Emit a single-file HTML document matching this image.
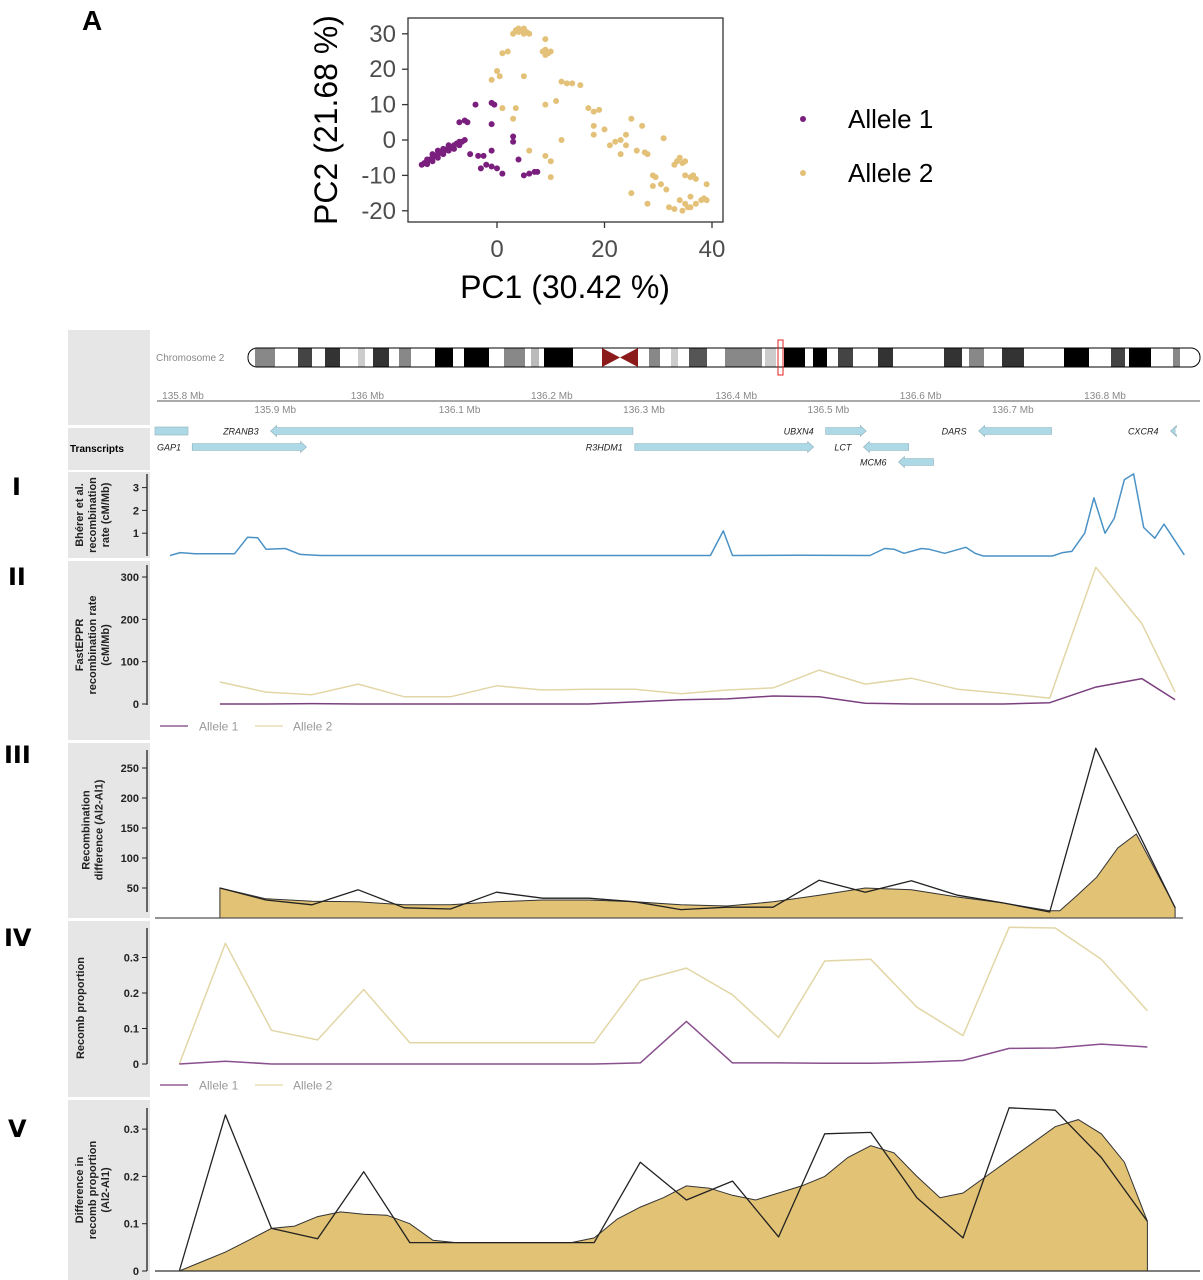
<!DOCTYPE html>
<html><head><meta charset="utf-8"><style>
html,body{margin:0;padding:0;background:#fff;}
svg{display:block;font-family:"Liberation Sans",sans-serif;}
</style></head><body>
<svg id="fig" width="1203" height="1280" viewBox="0 0 1203 1280" xmlns="http://www.w3.org/2000/svg">
<rect x="0" y="0" width="1203" height="1280" fill="#fff"/>
<text x="82" y="30" font-size="28" font-weight="bold">A</text>
<text x="78" y="364" font-size="28" font-weight="bold">B</text>
<g font-family="DejaVu Sans, sans-serif" font-size="24" font-weight="bold">
<text x="12" y="495">I</text>
<text x="8" y="585">II</text>
<text x="4" y="763">III</text>
<text x="4" y="946">IV</text>
<text x="8" y="1137">V</text>
</g>
<g fill="#e6e6e6">
<rect x="68" y="330" width="82" height="95"/>
<rect x="68" y="428" width="82" height="42"/>
<rect x="68" y="472" width="82" height="86"/>
<rect x="68" y="561" width="82" height="179"/>
<rect x="68" y="743" width="82" height="175"/>
<rect x="68" y="921" width="82" height="176"/>
<rect x="68" y="1100" width="82" height="180"/>
</g>
<text x="156" y="361" font-size="10" fill="#888">Chromosome 2</text>
<text x="70" y="452" font-size="10" font-weight="bold">Transcripts</text>
<g id="gA"></g><g id="gB"></g>
</svg>
<script>
// ---------- Panel A data ----------
const a1PC1 = [-14,-13.5,-13,-13,-12.5,-12,-12,-11.5,-11,-11,-10.5,-10,-10,-9.5,-9,-9,-8.5,-8,-8,-7.5,-7,-7,-6.5,-6,-12,-11,-10,-13,-9,-7,-6,-5.5,-4,-1,-0.5,-1,-5,-3.5,-2.5,-1,-3,-2,-1,0,1,3,3,4,5,6,7,7.5];
const a1PC2 = [-7,-6.5,-6.8,-6,-5.5,-6,-5,-4.5,-5,-4,-3.5,-4,-3,-2.8,-3,-2,-2,-2.5,-1.5,-1,-1.5,-0.5,-0.5,0,-4,-3,-2.5,-5.5,-1.5,5,5.5,5,10,10.5,10,4.5,-4,-4.5,-4.5,-3,-8,-7,-7.5,-8,-9.5,-0.5,1,-5.5,-10,-9.5,-9,-9];
const a2PC1 = [3,3.5,4,4.5,5,5.5,6,4,5,9,9,8.5,9.5,10,9,2,1,-1,0,0.5,5,1,3,3.5,6,9,10,10,9,11,12,13,14,15.5,12,17,18,19,18,18,20,21,22,23,23,24,24,25,26,27,27.5,28,25,28,29,29.5,29,30.5,31,31.5,32,33,33,33.5,34,34.5,35,35,36,36.5,37,34,35,35.5,34.5,36,37,38,38.5,39,39,36];
const a2PC2 = [30,31,31.5,31,31.5,30.5,30,30.5,30,28.5,25.5,25,24.5,25,24,25,24.5,17,19.5,18,18,9,6,9,-3,-4.5,-6,-10.5,10,11,16.5,16,16,15.5,0,9,8,8.5,4,1.5,3,-1.5,-0.5,0,-4,-1.5,1.5,6,-3,4,-3.5,-4,-15,-18,-10,-10.5,-13,-12.5,0.5,-14,-19,-19.5,-7,-6,-5,-6.5,-6,-10,-10.5,-10,-11,-17,-18,-19,-20,-19,-18,-17,-16.5,-17,-12.5,-16];
const aXTicks = [0,20,40];
const aYTicks = [-20,-10,0,10,20,30];

// ---------- Panel B data ----------
const mbTicksTop = [135.8,136.0,136.2,136.4,136.6,136.8];
const mbTicksBottom = [135.9,136.1,136.3,136.5,136.7];
const bhererPos = [135.786,135.797,135.813,135.835,135.856,135.870,135.881,135.890,135.911,135.927,135.949,136.100,136.241,136.372,136.386,136.396,136.469,136.545,136.561,136.571,136.582,136.601,136.609,136.626,136.649,136.659,136.668,136.743,136.754,136.764,136.778,136.788,136.800,136.810,136.821,136.831,136.842,136.854,136.864,136.886];
const bhererRate = [0.02,0.15,0.1,0.1,0.1,0.82,0.8,0.3,0.33,0.07,0.02,0.02,0.02,0.02,1.1,0.02,0.03,0.02,0.33,0.3,0.12,0.33,0.3,0.12,0.38,0.12,0.0,0.0,0.15,0.2,1.0,2.55,1.0,1.65,3.35,3.6,1.25,0.78,1.4,0.05];
const fastPos = [135.84,135.89,135.94,135.99,136.04,136.09,136.14,136.19,136.24,136.29,136.34,136.39,136.44,136.49,136.54,136.59,136.64,136.69,136.74,136.79,136.84,136.876];
const fastAllele1 = [0,0,1,0,0,0,0,0,0,5,10,12,19,17,2,0,0,0,3,40,60,10];
const fastAllele2 = [52,28,22,47,17,17,43,33,35,35,24,33,38,80,47,61,35,25,14,323,190,28];
const diffRaw = [50,30,22,47,17,15,43,33,33,27,14,18,18,63,43,62,38,25,10,283,130,17];
const diffSmoothPos = [135.84,135.89,135.94,135.99,136.04,136.09,136.14,136.19,136.24,136.29,136.34,136.39,136.44,136.49,136.54,136.59,136.64,136.69,136.74,136.751,136.770,136.791,136.814,136.834,136.876];
const diffSmooth = [50,32,28,27,22,22,27,30,30,27,22,20,27,38,50,47,35,25,12,12,38,68,117,140,18];
const propPos = [135.796,135.846,135.896,135.946,135.996,136.046,136.096,136.146,136.196,136.246,136.296,136.346,136.396,136.446,136.496,136.546,136.596,136.646,136.696,136.746,136.796,136.846];
const propAllele1 = [0,0.008,0,0,0,0,0,0,0,0,0.003,0.12,0.003,0.003,0.002,0.002,0.005,0.01,0.044,0.045,0.056,0.048];
const propAllele2 = [0,0.34,0.095,0.068,0.21,0.06,0.06,0.06,0.06,0.06,0.235,0.27,0.195,0.075,0.29,0.295,0.16,0.08,0.385,0.383,0.295,0.15];
const propDiff = [0,0.33,0.09,0.068,0.21,0.06,0.06,0.06,0.06,0.06,0.23,0.15,0.19,0.072,0.29,0.293,0.155,0.07,0.345,0.34,0.24,0.105];
const propSmoothPos = [135.796,135.821,135.846,135.871,135.896,135.921,135.946,135.971,135.996,136.021,136.046,136.071,136.096,136.121,136.146,136.171,136.196,136.221,136.246,136.271,136.296,136.321,136.346,136.371,136.396,136.421,136.446,136.471,136.496,136.521,136.546,136.571,136.596,136.621,136.646,136.671,136.696,136.721,136.746,136.771,136.796,136.821,136.846];
const propSmooth = [0,0.02,0.04,0.065,0.09,0.095,0.115,0.125,0.12,0.118,0.1,0.065,0.06,0.06,0.06,0.06,0.06,0.06,0.07,0.11,0.135,0.155,0.18,0.175,0.16,0.15,0.165,0.18,0.2,0.24,0.265,0.25,0.2,0.155,0.165,0.2,0.235,0.27,0.305,0.32,0.29,0.23,0.105];
const bhererTicks = [1,2,3];
const fastTicks = [0,100,200,300];
const diffTicks = [50,100,150,200,250];
const propTicks = [0,0.1,0.2,0.3];
const propDiffTicks = [0,0.1,0.2,0.3];
const geneNames = ["GAP1","ZRANB3","R3HDM1","UBXN4","LCT","MCM6","DARS","CXCR4"];
const geneStart = [135.810,135.895,136.290,136.497,136.538,136.576,136.663,136.871];
const geneEnd = [135.934,136.288,136.484,136.541,136.587,136.614,136.742,136.876];
const geneStrand = [1,-1,1,1,-1,-1,-1,-1];
const geneRow = [1,0,1,0,1,2,0,0];

const NS = "http://www.w3.org/2000/svg";
function mk(parent, tag, attrs, text){
  const e = document.createElementNS(NS, tag);
  for (const k in attrs) e.setAttribute(k, attrs[k]);
  if (text !== undefined) e.textContent = text;
  parent.appendChild(e);
  return e;
}
// ---- Panel A ----
const gA = document.getElementById('gA');
const ax = v => 497 + v*5.375;
const ay = v => 140 - v*3.54;
let e;
e = mk(gA,'rect',{x:408,y:18,width:315,height:204,fill:'none',stroke:'#333','stroke-width':1.3});


aXTicks.forEach(t=>{
  e = mk(gA,'line',{x1:ax(t),x2:ax(t),y1:222,y2:228,stroke:'#333','stroke-width':1.3});
  
  
  e = mk(gA,'text',{x:ax(t),y:257,'text-anchor':'middle','font-size':24,fill:'#4d4d4d'},String(t));
  
  
});
aYTicks.forEach(t=>{
  e = mk(gA,'line',{x1:402,x2:408,y1:ay(t),y2:ay(t),stroke:'#333','stroke-width':1.3});
  
  
  e = mk(gA,'text',{x:396,y:ay(t)+8,'text-anchor':'end','font-size':24,fill:'#4d4d4d'},String(t));
  
  
});
e = mk(gA,'text',{x:565,y:298,'text-anchor':'middle','font-size':32},'PC1 (30.42 %)');


e = mk(gA,'text',{transform:'translate(337,120) rotate(-90)','text-anchor':'middle','font-size':32},'PC2 (21.68 %)');


a2PC1.forEach((v,i)=>{
  e = mk(gA,'circle',{cx:ax(v),cy:ay(a2PC2[i]),r:3,fill:'#e4c179'});
  
  
});
a1PC1.forEach((v,i)=>{
  e = mk(gA,'circle',{cx:ax(v),cy:ay(a1PC2[i]),r:3,fill:'#7a1f7d'});
  
  
});
e = mk(gA,'circle',{cx:803,cy:119,r:3,fill:'#7a1f7d'});


e = mk(gA,'text',{x:848,y:128,'font-size':26},'Allele 1');


e = mk(gA,'circle',{cx:803,cy:173,r:3,fill:'#e4c179'});


e = mk(gA,'text',{x:848,y:182,'font-size':26},'Allele 2');



// ---- Panel B ----
const gB = document.getElementById('gB');
const gx = m => 183 + (m-135.8)*922;
const bandStart = [255,298,325,358,373,399,435,464,504,531,544,649,671,689,725,765,784,813,838,878,944,969,1002,1064,1111,1129,1173];
const bandEnd =   [275,312,340,365,389,411,453,489,525,539,573,660,678,707,762,776,805,827,853,893,962,984,1024,1089,1125,1151,1180];
const bandShade = ['#888','#444','#333','#ccc','#333','#888','#000','#000','#888','#bbb','#000','#888','#ccc','#555','#888','#ccc','#000','#000','#444','#333','#333','#888','#333','#000','#444','#000','#888'];
const chrom = mk(gB,'g',{});


e = mk(chrom,'rect',{x:248,y:348,width:952,height:19,rx:9,fill:'#fff',stroke:'#000','stroke-width':1});


bandStart.forEach((s,i)=>{
  e = mk(chrom,'rect',{x:s,y:348.5,width:bandEnd[i]-s,height:18,fill:bandShade[i]});
  
  
});
e = mk(chrom,'polygon',{points:'602,348 620,357.5 602,367',fill:'#8b1a1a'});


e = mk(chrom,'polygon',{points:'638,348 620,357.5 638,367',fill:'#8b1a1a'});


e = mk(chrom,'rect',{x:778,y:340,width:5,height:35,fill:'none',stroke:'#e02020','stroke-width':1});


e = mk(gB,'line',{x1:157,x2:1200,y1:401,y2:401,stroke:'#aaa','stroke-width':2});


mbTicksTop.forEach(t=>{
  e = mk(gB,'text',{x:gx(t),y:399,'text-anchor':'middle','font-size':10,fill:'#888'},(+t.toFixed(1))+' Mb');
  
  
});
mbTicksBottom.forEach(t=>{
  e = mk(gB,'text',{x:gx(t),y:413,'text-anchor':'middle','font-size':10,fill:'#888'},t.toFixed(1)+' Mb');
  
  
});
const rowY = [431,447,462];
e = mk(gB,'rect',{x:155,y:427,width:33,height:8,fill:'#add8e6',stroke:'#8fb0bb','stroke-width':0.6});


geneNames.forEach((g,i)=>{
  const x1 = gx(geneStart[i]), x2 = gx(geneEnd[i]), y = rowY[geneRow[i]];
  let pts;
  if (geneStrand[i] > 0) pts = `${x1},${y-3.5} ${x2-6},${y-3.5} ${x2-6},${y-5.5} ${x2},${y} ${x2-6},${y+5.5} ${x2-6},${y+3.5} ${x1},${y+3.5}`;
  else pts = `${x2},${y-3.5} ${x1+6},${y-3.5} ${x1+6},${y-5.5} ${x1},${y} ${x1+6},${y+5.5} ${x1+6},${y+3.5} ${x2},${y+3.5}`;
  e = mk(gB,'polygon',{points:pts,fill:'#add8e6',stroke:'#8fb0bb','stroke-width':0.6});
  
  
  const lx = (i===0) ? 157 : x1 - 12;
  e = mk(gB,'text',{x:lx,y:y+3.5,'text-anchor':(i===0?'start':'end'),'font-size':9,'font-style':'italic',fill:'#222'},g);
  
  
});

function yAxis(ticks, sy, top, bottom, fmt, name){
  e = mk(gB,'line',{x1:147,x2:147,y1:top,y2:bottom,stroke:'#222','stroke-width':1.3});
  
  
  ticks.forEach(t=>{
    e = mk(gB,'line',{x1:142,x2:147,y1:sy(t),y2:sy(t),stroke:'#222','stroke-width':1});
    
    
    e = mk(gB,'text',{x:139,y:sy(t)+4,'text-anchor':'end','font-size':11,'font-weight':'bold',fill:'#222'},fmt(t));
    
    
  });
}
function yTitle(lines, cx, cy, name){
  const t = mk(gB,'text',{transform:`translate(${cx},${cy}) rotate(-90)`,'text-anchor':'middle','font-size':11,'font-weight':'bold',fill:'#222'});
  
  
  const off = -(lines.length-1)*6.5;
  lines.forEach((l,i)=>{ mk(t,'tspan',{x:0,y:off+i*13+4},l); });
}
function linePath(xs, ys, sy){
  return xs.map((m,i)=>(i?'L':'M')+gx(m).toFixed(1)+','+sy(ys[i]).toFixed(1)).join(' ');
}
function drawLine(xs, ys, sy, color, w, name){
  e = mk(gB,'path',{d:linePath(xs,ys,sy),fill:'none',stroke:color,'stroke-width':w,'stroke-linejoin':'round'});
  
  
}
function drawArea(xs, ys, sy, base, color, name){
  const d = linePath(xs,ys,sy)+` L${gx(xs[xs.length-1]).toFixed(1)},${base} L${gx(xs[0]).toFixed(1)},${base} Z`;
  e = mk(gB,'path',{d:d,fill:color,stroke:'#333','stroke-width':1});
  
  
}
function legend(y, name){
  e = mk(gB,'line',{x1:160,x2:188,y1:y,y2:y,stroke:'#7b3f7f','stroke-width':1.3});
  
  
  e = mk(gB,'text',{x:199,y:y+4.5,'font-size':12,fill:'#999'},'Allele 1');
  
  
  e = mk(gB,'line',{x1:255,x2:283,y1:y,y2:y,stroke:'#e2d6a6','stroke-width':1.3});
  
  
  e = mk(gB,'text',{x:293,y:y+4.5,'font-size':12,fill:'#999'},'Allele 2');
  
  
}
const s1 = v => 556 - v*22.8;
yAxis(bhererTicks, s1, 474, 556, t=>String(t), 'bherer');
yTitle(['Bhérer et al.','recombination','rate (cM/Mb)'], 92, 515, 'bherer');
drawLine(bhererPos, bhererRate, s1, '#4a92c6', 1.5, 'bherer-rate-line');
const s2 = v => 704 - v*0.4233;
yAxis(fastTicks, s2, 565, 705, t=>String(t), 'fasteppr');
yTitle(['FastEPPR','recombination rate','(cM/Mb)'], 92, 645, 'fasteppr');
drawLine(fastPos, fastAllele2, s2, '#e2d6a6', 1.5, 'fasteppr-allele2-line');
drawLine(fastPos, fastAllele1, s2, '#7b3f7f', 1.5, 'fasteppr-allele1-line');
legend(726, 'fasteppr');
const s3 = v => 918 - v*0.6;
yAxis(diffTicks, s3, 750, 912, t=>String(t), 'recomb-diff');
yTitle(['Recombination','difference (Al2-Al1)'], 92, 830, 'recomb-diff');
drawArea(diffSmoothPos, diffSmooth, s3, 918, '#e2c275', 'recomb-diff-smoothed-area');
drawLine(fastPos, diffRaw, s3, '#222', 1.3, 'recomb-diff-line');
e = mk(gB,'line',{x1:155,x2:1183,y1:918,y2:918,stroke:'#555','stroke-width':1.3});


const s4 = v => 1064 - v*355;
yAxis(propTicks, s4, 928, 1064, t=>String(t), 'recomb-prop');
yTitle(['Recomb proportion'], 80, 1008, 'recomb-prop');
drawLine(propPos, propAllele2, s4, '#e2d6a6', 1.5, 'recomb-prop-allele2-line');
drawLine(propPos, propAllele1, s4, '#8a4f8e', 1.5, 'recomb-prop-allele1-line');
legend(1085, 'recomb-prop');
const s5 = v => 1271 - v*473;
yAxis(propDiffTicks, s5, 1108, 1271, t=>String(t), 'prop-diff');
yTitle(['Difference in','recomb proportion','(Al2-Al1)'], 92, 1190, 'prop-diff');
drawArea(propSmoothPos, propSmooth, s5, 1271, '#e2c275', 'prop-diff-smoothed-area');
drawLine(propPos, propDiff, s5, '#222', 1.3, 'prop-diff-line');
e = mk(gB,'line',{x1:155,x2:1200,y1:1271,y2:1271,stroke:'#333','stroke-width':1.3});


</script>
</body></html>
